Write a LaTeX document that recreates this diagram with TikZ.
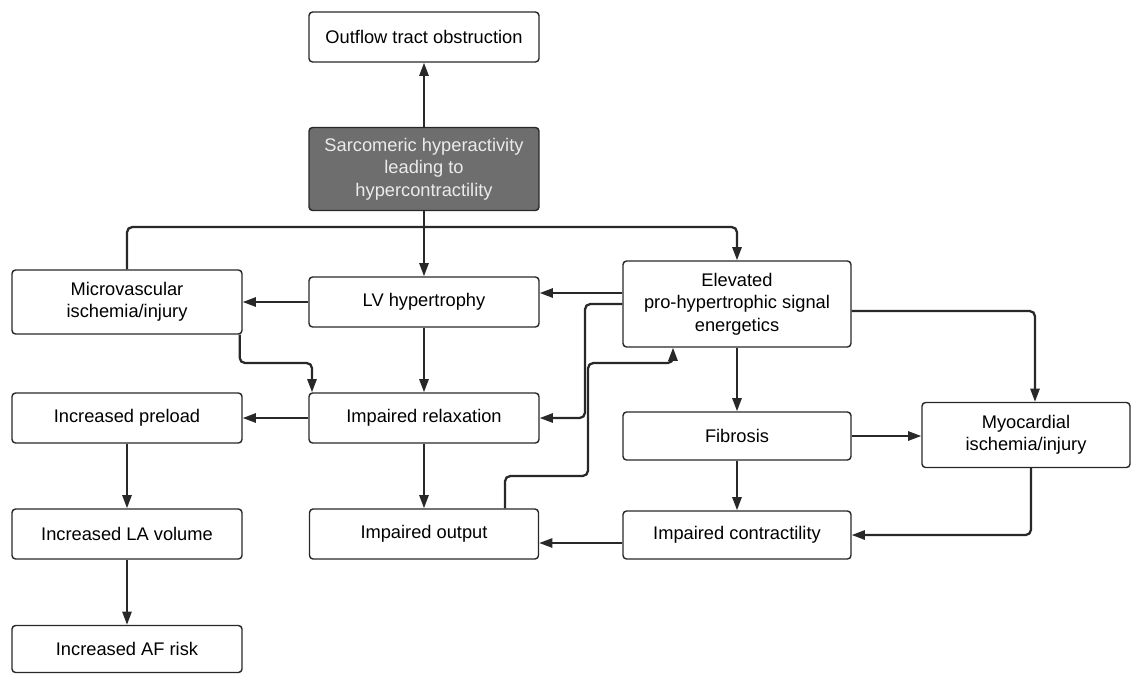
\documentclass[tikz,border=0pt]{standalone}
\usepackage{fontspec}
\setmainfont{Liberation Sans}
\usetikzlibrary{arrows.meta}
\definecolor{boxline}{RGB}{40,40,40}
\definecolor{darkbox}{RGB}{110,110,110}
\definecolor{lighttext}{RGB}{235,235,235}

\begin{document}
\begin{tikzpicture}[x=0.02cm,y=-0.02cm,
        box/.style={draw=boxline,line width=0.8pt,rounded corners=2pt,fill=white,
            minimum width=4.6cm,minimum height=1cm,align=center,inner sep=1pt,
            font=\fontsize{10.4}{12.8}\selectfont},
        link/.style={draw=boxline,line width=1.3pt,rounded corners=3pt},
        arrow/.style={link,-{Triangle[length=7.5pt,width=5.2pt]}}]
        \useasboundingbox (0,0) rectangle (1140,674);
        \node[box](outflow)at(424,37){Outflow tract obstruction};
        \node[box,fill=darkbox,text=lighttext,minimum height=1.66cm](sarc)at(424,169){Sarcomeric hyperactivity\\leading to\\hypercontractility};
        \node[box,minimum height=1.28cm](micro)at(127,302){Microvascular\\ischemia/injury};
        \node[box](lvh)at(424,302){LV hypertrophy};
        \node[box,minimum width=4.56cm,minimum height=1.72cm](elev)at(737,304){Elevated\\pro-hypertrophic signal\\energetics};
        \node[box](preload)at(127,418){Increased preload};
        \node[box](relax)at(424,418){Impaired relaxation};
        \node[box,minimum width=4.56cm,minimum height=0.96cm](fibrosis)at(737,436){Fibrosis};
        \node[box,minimum width=4.16cm,minimum height=1.3cm](myo)at(1026,435){Myocardial\\ischemia/injury};
        \node[box](lavol)at(127,534){Increased LA volume};
        \node[box,minimum width=4.58cm](output)at(424,534){Impaired output};
        \node[box,minimum width=4.56cm,minimum height=0.96cm](contract)at(737,535){Impaired contractility};
        \node[box,minimum height=0.94cm](afrisk)at(127,649){Increased AF risk};
        \coordinate(split)at(424,227);
        \coordinate(mr)at(312,363);
        \draw[arrow](sarc)--(outflow);
        \draw[arrow](sarc)--(lvh);
        \draw[link](split)-|(micro.north);
        \draw[arrow](split)-|(elev.north);
        \draw[arrow](lvh)--(micro);
        \draw[arrow](elev.west|-0,293)--(lvh.east|-0,293);
        \draw[arrow](elev.west)--(585,304)|-(relax.east);
        \draw[arrow]([xshift=-0.06cm]micro.south east)|-(mr)--(mr|-relax.north);
        \draw[arrow](lvh)--(relax);
        \draw[arrow](relax)--(preload);
        \draw[arrow](preload)--(lavol);
        \draw[arrow](lavol)--(afrisk);
        \draw[arrow](relax)--(output);
        \draw[arrow](output.north-|505,0)|-(588,476)|-(673,363)--(673,0|-elev.south);
        \draw[arrow](elev)--(fibrosis);
        \draw[arrow](elev.east|-0,311)-|(1035,0|-myo.north);
        \draw[arrow](fibrosis)--(myo.west|-fibrosis);
        \draw[arrow](fibrosis)--(contract);
        \draw[arrow](myo.south-|1031,0)|-(contract.east);
        \draw[arrow](contract.west|-0,543)--(output.east|-0,543);
    \end{tikzpicture}
\end{document}
